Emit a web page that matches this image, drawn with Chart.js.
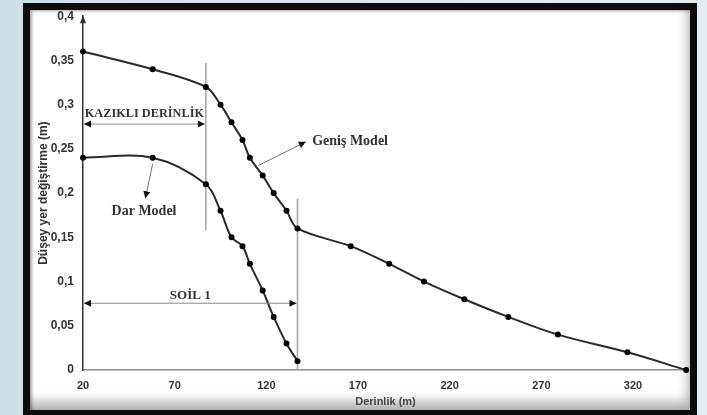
<!DOCTYPE html>
<html>
<head>
<meta charset="utf-8">
<script src="https://cdn.jsdelivr.net/npm/chart.js@4.4.1/dist/chart.umd.min.js"></script>
<style>
  html, body { margin: 0; padding: 0; }
  body {
    width: 707px; height: 415px; position: relative; overflow: hidden;
    background: linear-gradient(to right, #cddfe7, #dce9ee 60%, #e2edf1);
  }
  .frame {
    position: absolute; left: 23px; top: 3px; width: 674px; height: 414px;
    box-sizing: border-box; border: 7px solid #0c0c0c; background: #fff;
    box-shadow: inset 3px 2px 3px -1px rgba(0,0,0,0.35),
                inset -10px -16px 12px -8px rgba(0,0,0,0.32);
  }
  .chart-box { position: absolute; left: 0; top: 0; width: 707px; height: 415px; }
</style>
</head>
<body>
<div class="frame"></div>
<div class="chart-box"><canvas id="chart"></canvas></div>
<script>
// depth (m) and vertical displacement (m)
const depthGenis = [20, 58, 87, 95, 101, 107, 111, 118, 124, 131, 137, 166, 187, 206, 228, 252, 279, 317, 349];
const genisValues = [0.36, 0.34, 0.32, 0.30, 0.28, 0.26, 0.24, 0.22, 0.20, 0.18, 0.16, 0.14, 0.12, 0.10, 0.08, 0.06, 0.04, 0.02, 0];

const depthDar = [20, 58, 87, 95, 101, 107, 111, 118, 124, 131, 137];
const darValues = [0.24, 0.24, 0.21, 0.18, 0.15, 0.14, 0.12, 0.09, 0.06, 0.03, 0.01];

const xTicks = [20, 70, 120, 170, 220, 270, 320];
const yTicks = [0, 0.05, 0.1, 0.15, 0.2, 0.25, 0.3, 0.35, 0.4];
const yTickLabels = ['0', '0,05', '0,1', '0,15', '0,2', '0,25', '0,3', '0,35', '0,4'];

const pileDepth = 87;   // KAZIKLI DERİNLİK
const soilDepth = 137;  // SOİL 1

const toPoints = (xs, ys) => xs.map((d, i) => ({ x: d, y: ys[i] }));

function arrowHead(ctx, x1, y1, x2, y2, len, half) {
  const a = Math.atan2(y2 - y1, x2 - x1);
  ctx.beginPath();
  ctx.moveTo(x2, y2);
  ctx.lineTo(x2 - len * Math.cos(a) + half * Math.sin(a), y2 - len * Math.sin(a) - half * Math.cos(a));
  ctx.lineTo(x2 - len * Math.cos(a) - half * Math.sin(a), y2 - len * Math.sin(a) + half * Math.cos(a));
  ctx.closePath();
  ctx.fill();
}

function arrow(ctx, x1, y1, x2, y2, both) {
  ctx.beginPath();
  ctx.moveTo(x1, y1);
  ctx.lineTo(x2, y2);
  ctx.stroke();
  arrowHead(ctx, x1, y1, x2, y2, 7, 3.5);
  if (both) arrowHead(ctx, x2, y2, x1, y1, 7, 3.5);
}

const annotations = {
  id: 'annotations',
  beforeDatasetsDraw(chart) {
    const { ctx, scales: { x, y } } = chart;
    const px = v => x.getPixelForValue(v);
    const py = v => y.getPixelForValue(v);
    // vertical guide lines, under the series
    ctx.save();
    ctx.strokeStyle = '#a3a3a3';
    ctx.lineWidth = 1.5;
    ctx.beginPath();
    ctx.moveTo(px(pileDepth), py(0.347));
    ctx.lineTo(px(pileDepth), py(0.158));
    ctx.moveTo(px(soilDepth), py(0.194));
    ctx.lineTo(px(soilDepth), py(0));
    ctx.stroke();
    ctx.restore();
  },
  afterDraw(chart) {
    const { ctx, scales: { x, y }, chartArea } = chart;
    const px = v => x.getPixelForValue(v);
    const py = v => y.getPixelForValue(v);
    ctx.save();

    // arrow tip on the y axis
    ctx.fillStyle = '#333';
    arrowHead(ctx, chartArea.left, chartArea.top + 10, chartArea.left, chartArea.top - 1, 8, 3);

    // range arrows
    ctx.strokeStyle = '#8a8a8a';
    ctx.lineWidth = 1;
    ctx.fillStyle = '#111';
    arrow(ctx, px(20) + 1, py(0.278), px(pileDepth) - 1, py(0.278), true);
    arrow(ctx, px(20) + 1, py(0.0755), px(soilDepth) - 1, py(0.0755), true);

    // series labels
    ctx.strokeStyle = '#777';
    arrow(ctx, px(58), py(0.233), px(54), py(0.194), false);
    arrow(ctx, px(115.5), py(0.231), px(141.5), py(0.258), false);

    ctx.fillStyle = '#333';
    ctx.textBaseline = 'middle';
    ctx.textAlign = 'center';
    ctx.font = 'bold 12.3px "Liberation Serif", serif';
    ctx.fillText('KAZIKLI DERİNLİK', (px(20) + px(pileDepth)) / 2, py(0.2896));
    ctx.font = 'bold 13px "Liberation Serif", serif';
    ctx.fillText('SOİL 1', (px(20) + px(soilDepth)) / 2, py(0.0845));
    ctx.font = 'bold 14px "Liberation Serif", serif';
    ctx.fillText('Dar Model', px(53.3), py(0.179));
    ctx.textAlign = 'left';
    ctx.fillText('Geniş Model', px(145), py(0.258));
    ctx.restore();
  }
};

const lineStyle = {
  borderColor: '#2a2a2a',
  backgroundColor: '#000',
  borderWidth: 2,
  pointRadius: 3,
  pointBackgroundColor: '#000',
  pointBorderWidth: 0,
  tension: 0.35,
  clip: false
};

new Chart(document.getElementById('chart'), {
  type: 'line',
  data: {
    datasets: [
      { label: 'Geniş Model', data: toPoints(depthGenis, genisValues), ...lineStyle },
      { label: 'Dar Model', data: toPoints(depthDar, darValues), ...lineStyle }
    ]
  },
  options: {
    responsive: true,
    maintainAspectRatio: false,
    animation: false,
    layout: { padding: { top: 15, right: 19, left: 32, bottom: 0 } },
    plugins: { legend: { display: false }, tooltip: { enabled: false } },
    scales: {
      x: {
        type: 'linear',
        min: 20,
        max: 350,
        afterBuildTicks: s => { s.ticks = xTicks.map(v => ({ value: v })); },
        afterFit: s => { s.height = 45; },
        grid: { display: false, drawTicks: false },
        border: { display: true, color: '#8c8c8c', width: 1.5 },
        ticks: {
          padding: 9,
          color: '#333',
          font: { family: '"Liberation Sans", Arial', size: 11, weight: 'bold' }
        },
        title: {
          display: true,
          text: 'Derinlik (m)',
          color: '#444',
          padding: { top: 0, bottom: 6 },
          font: { family: '"Liberation Sans", Arial', size: 11, weight: 'bold' }
        }
      },
      y: {
        min: 0,
        max: 0.4,
        afterBuildTicks: s => { s.ticks = yTicks.map(v => ({ value: v })); },
        afterFit: s => { s.width = 51; },
        grid: { display: false, drawTicks: false },
        border: { display: true, color: '#333', width: 1.5 },
        ticks: {
          padding: 9,
          color: '#333',
          callback: (v, i) => yTickLabels[i],
          font: { family: '"Liberation Sans", Arial', size: 12, weight: 'bold' }
        },
        title: {
          display: true,
          text: 'Düşey yer değiştirme (m)',
          color: '#333',
          padding: { top: 4, bottom: 0 },
          font: { family: '"Liberation Sans", Arial', size: 12, weight: 'bold' }
        }
      }
    }
  },
  plugins: [annotations]
});
</script>
</body>
</html>
